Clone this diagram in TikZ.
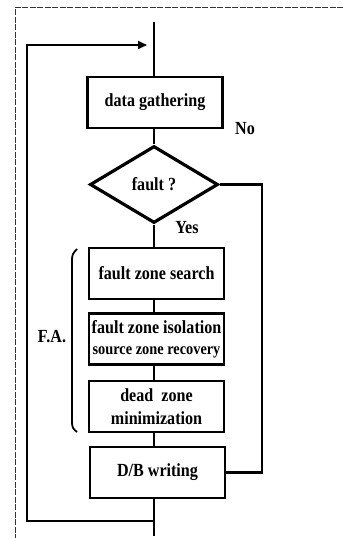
\documentclass[tikz,border=0pt]{standalone}
\usepackage{fontspec}
\setmainfont{Liberation Serif}[FakeStretch=0.87]
\usetikzlibrary{shapes.geometric,arrows.meta}
\begin{document}
\begin{tikzpicture}[x=1pt,y=-1pt,
  txt/.style={font=\fontsize{18.5}{23}\selectfont\bfseries},
  box/.style={txt,draw,line width=2.8pt,minimum width=135pt,minimum height=51pt,inner sep=0pt,align=center},
  dec/.style={txt,draw,diamond,line width=3.2pt,minimum width=128pt,minimum height=77pt,inner sep=0pt,aspect=1.66},
  flow/.style={line width=2.2pt},
  frame/.style={line width=0.7pt,dash pattern=on 6pt off 1.5pt,black!80}]
\useasboundingbox (0,0) rectangle (343,538);
% frame
\draw[frame] (343,7) -- (15,7) -- (15,538);
% nodes
\node[box] (dg) at (155,102.5) {data gathering};
\node[dec] (ft) at (154,184.5) {fault ?};
\node[box] (fzs) at (156.5,273.5) {fault zone search};
\node[box] (fzi) at (156.5,339) {fault zone isolation\\[-2pt]{\fontsize{16.5}{18}\selectfont source zone recovery}};
\node[box] (dzm) at (156.5,406.5) {dead\ \ zone\\minimization};
\node[box] (db) at (157.5,472.5) {D/B writing};
\node[txt] (no) at (245,129) {No};
\node[txt] (yes) at (187,228) {Yes};
\node[txt] (fa) at (52,337) {F.A.};
\coordinate (top) at (154,22);
\coordinate (bot) at (154,536);
\coordinate (fb) at (154,521);
\coordinate (fl) at (27,521);
\coordinate (tl) at (27,45);
\coordinate (tip) at (147,45);
\coordinate (nr) at (262,330);
% connectors
\draw[flow] (top) -- (top |- dg.north);
\draw[flow] (dg.south) -- (dg.south -| ft.north) -- (ft.north);
\draw[flow] (ft.south) -- (ft.south |- fzs.north);
\draw[flow] (fzs.south -| ft.south) -- (ft.south |- fzi.north);
\draw[flow] (fzi.south -| ft.south) -- (ft.south |- dzm.north);
\draw[flow] (dzm.south -| ft.south) -- (ft.south |- db.north);
\draw[flow] (db.south -| ft.south) -- (bot);
\draw[flow,-{Triangle[length=9pt,width=8pt]}] (fb) -- (fl) -- (tl) -- (tip);
\draw[flow] (ft.east) -| (nr) |- (db.east);
% bracket
\draw[line width=1.8pt] (77,249) .. controls (73,253) and (72,255) .. (72,260) -- (72,422) .. controls (72,427) and (73,429) .. (77,432);
\end{tikzpicture}
\end{document}
